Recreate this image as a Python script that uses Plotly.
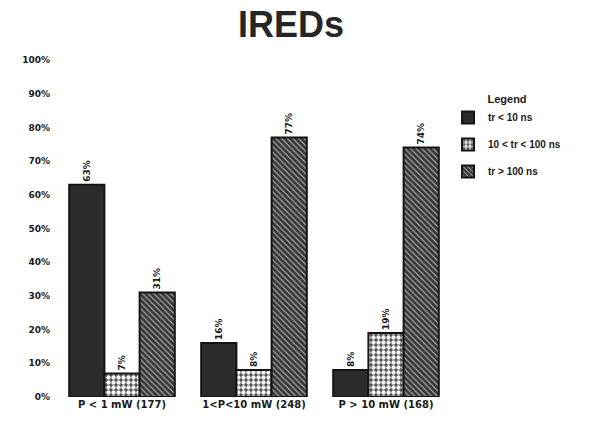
import plotly.graph_objects as go

# Power classes (number of devices in each class)
categories = ["P < 1 mW (177)", "1<P<10 mW (248)", "P > 10 mW (168)"]

# Share of devices per rise-time class, in percent
fast = [63, 16, 8]        # tr < 10 ns
medium = [7, 8, 19]       # 10 < tr < 100 ns
slow = [31, 77, 74]       # tr > 100 ns

series_names = ["tr < 10 ns", "10 < tr < 100 ns", "tr > 100 ns"]
y_ticks = [0, 10, 20, 30, 40, 50, 60, 70, 80, 90, 100]

FONT = "Liberation Sans"
HEAVY = "DejaVu Sans"
INK = "#1a1a1a"

patterns = [
    dict(shape="", bgcolor="#2c2c2c"),
    dict(shape=".", bgcolor="#4a4a4a", fgcolor="#f4f4f4", size=5, solidity=0.6, fillmode="replace"),
    dict(shape="\\", bgcolor="#353535", fgcolor="#a8a8a8", size=4, solidity=0.3, fillmode="replace"),
]

fig = go.Figure()
for i, (name, vals, pat) in enumerate(zip(series_names, [fast, medium, slow], patterns)):
    fig.add_trace(go.Bar(
        name=name,
        legendgroup=f"g{i}",
        x=categories,
        y=vals,
        text=[f"{v}%" for v in vals],
        textposition="outside",
        textangle=-90,
        textfont=dict(family=HEAVY, size=9, color=INK, weight="bold"),
        cliponaxis=False,
        marker=dict(
            color=pat["bgcolor"],
            pattern=pat,
            line=dict(color="#141414", width=2),
        ),
    ))

fig.update_layout(
    width=598,
    height=425,
    paper_bgcolor="white",
    plot_bgcolor="white",
    barmode="group",
    bargap=0.2,
    bargroupgap=0,
    margin=dict(l=56, r=146, t=60, b=28),
    title=dict(
        text="<b>IREDs</b>",
        x=291 / 598,
        xanchor="center",
        y=1 - 24 / 425,
        yanchor="middle",
        font=dict(family=FONT, size=36, color="#262626"),
    ),
    font=dict(family=FONT, color=INK),
    xaxis=dict(
        showgrid=False,
        showline=False,
        zeroline=False,
        ticks="",
        tickfont=dict(family=HEAVY, size=10, color=INK, weight="bold"),
    ),
    yaxis=dict(
        range=[0, 100],
        tickvals=y_ticks,
        ticktext=[f"{v}%" for v in y_ticks],
        showgrid=False,
        showline=False,
        zeroline=False,
        ticks="",
        ticklabelstandoff=5,
        tickfont=dict(family=HEAVY, size=9, color=INK, weight="bold"),
    ),
    legend=dict(
        x=0.99,
        xanchor="left",
        y=0.915,
        yanchor="top",
        title=dict(text="<b>Legend</b>", side="top center",
                   font=dict(family=FONT, size=11, color=INK)),
        font=dict(family=FONT, size=10, color=INK, weight="bold"),
        itemwidth=30,
        tracegroupgap=8,
        bgcolor="rgba(0,0,0,0)",
    ),
    showlegend=True,
)

fig.write_html("out.html")
